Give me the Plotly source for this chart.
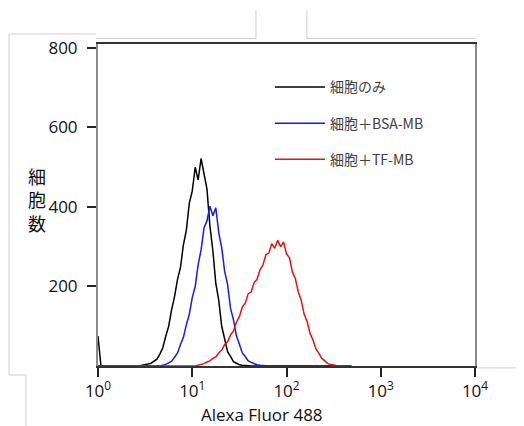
import plotly.graph_objects as go

# Fluorescence channel centres (Alexa Fluor 488 intensity)
fluor = [1.00, 1.075, 1.155, 1.241, 1.334, 1.433, 1.540, 1.655, 1.778, 1.911,
         2.054, 2.207, 2.371, 2.548, 2.738, 2.943, 3.162, 3.398, 3.652, 3.924,
         4.217, 4.532, 4.870, 5.233, 5.623, 6.043, 6.494, 6.978, 7.499, 8.058,
         8.660, 9.306, 10.00, 10.75, 11.55, 12.41, 13.34, 14.33, 15.40, 16.55,
         17.78, 19.11, 20.54, 22.07, 23.71, 25.48, 27.38, 29.43, 31.62, 33.98,
         36.52, 39.24, 42.17, 45.32, 48.70, 52.33, 56.23, 60.43, 64.94, 69.78,
         74.99, 80.58, 86.60, 93.06, 100.0, 107.5, 115.5, 124.1, 133.4, 143.3,
         154.0, 165.5, 177.8, 191.1, 205.4, 220.7, 237.1, 254.8, 273.8, 294.3,
         316.2, 339.8, 365.2, 392.4, 421.7, 453.2, 487.0]

cells_only = [75] + [0] * 14 + [
    2, 3, 5, 7, 12, 17, 30, 46, 75, 100,
    142, 175, 218, 248, 305, 342, 410, 440, 500, 468,
    522, 478, 445, 352, 290, 208, 165, 100, 68, 36,
    24, 11, 7, 3, 2, 1] + [0] * 36

cells_bsa = [0] * 22 + [
    2, 4, 8, 12, 22, 33, 54, 72, 104, 130,
    172, 200, 255, 292, 348, 365, 402, 378, 398, 335,
    298, 238, 205, 145, 116, 76, 55, 33, 24, 13,
    9, 5, 3, 2, 1] + [0] * 30

cells_tf = [0] * 34 + [
    2, 4, 6, 10, 13, 19, 23, 33, 40, 54,
    61, 78, 88, 110, 124, 148, 158, 182, 186, 210,
    218, 242, 254, 280, 284, 308, 296, 316, 300, 312,
    282, 272, 236, 220, 186, 165, 130, 112, 82, 65,
    43, 32, 19, 13, 6, 4, 2, 1] + [0] * 5

series_names = ["細胞のみ", "細胞＋BSA-MB", "細胞＋TF-MB"]
series_colors = ["#000000", "#1a1ae6", "#e81212"]
x_tickvals = [1, 10, 100, 1000, 10000]
x_ticktext = ["10<sup>0</sup>", "10<sup>1</sup>", "10<sup>2</sup>", "10<sup>3</sup>", "10<sup>4</sup>"]
y_tickvals = [200, 400, 600, 800]

fig = go.Figure()
for name, ys, col in zip(series_names, [cells_only, cells_bsa, cells_tf], series_colors):
    fig.add_trace(go.Scatter(x=fluor, y=ys, mode="lines", name=name, legendgroup=name,
                             line=dict(color=col, width=1.5)))

tick_font = dict(family="Open Sans", size=17, color="#111111")

# page body has an 8px margin, so the figure is 8px smaller than the window
fig.update_layout(
    width=516, height=418,
    margin=dict(l=90, r=49, t=36, b=60),
    paper_bgcolor="white", plot_bgcolor="white",
    showlegend=True,
    legend=dict(x=0.456, y=0.915, xanchor="left", yanchor="top",
                font=dict(family="Noto Sans CJK JP", size=14, color="#404040"),
                bgcolor="rgba(0,0,0,0)", tracegroupgap=15, itemwidth=50,
                traceorder="grouped"),
    xaxis=dict(type="log", range=[0, 4], tickvals=x_tickvals, ticktext=x_ticktext,
               ticks="outside", ticklen=9, tickwidth=1.5, tickcolor="#222222",
               showline=True, linecolor="#333333", linewidth=1.5, mirror=True,
               showgrid=False, zeroline=False, tickfont=tick_font),
    yaxis=dict(range=[0, 810], tickvals=y_tickvals, ticks="outside", ticklen=9,
               tickwidth=1.5, tickcolor="#222222", ticklabelstandoff=6,
               showline=True, linecolor="#8a8a8a", linewidth=2, mirror=True,
               showgrid=False, zeroline=False, tickfont=tick_font),
    annotations=[
        dict(text="細<br>胞<br>数", xref="paper", yref="paper", x=-0.162, y=0.516,
             xanchor="center", yanchor="middle", showarrow=False, align="center",
             font=dict(family="Noto Sans CJK JP", size=18, color="#111111")),
        dict(text="Alexa Fluor 488", xref="paper", yref="paper", x=0.436, y=-0.152,
             xanchor="center", yanchor="middle", showarrow=False,
             font=dict(family="Open Sans", size=17, color="#111111")),
    ],
)

# light grey frame lines of the original screenshot
frame = [(-0.236, 1.031, -0.236, -0.028), (-0.236, 1.031, -0.005, 1.031),
         (-0.005, 1.017, 0.419, 1.017), (0.419, 1.106, 0.419, 1.017),
         (0.554, 1.106, 0.554, 1.017), (0.554, 1.017, 1.003, 1.017),
         (1.003, -0.006, 1.133, -0.006), (-0.236, -0.028, -0.191, -0.028),
         (-0.191, -0.028, -0.191, -0.186)]
for x0, y0, x1, y1 in frame:
    fig.add_shape(type="line", xref="paper", yref="paper", x0=x0, y0=y0, x1=x1, y1=y1,
                  line=dict(color="#cfcfcf", width=1), layer="below")

fig.write_html("out.html")
